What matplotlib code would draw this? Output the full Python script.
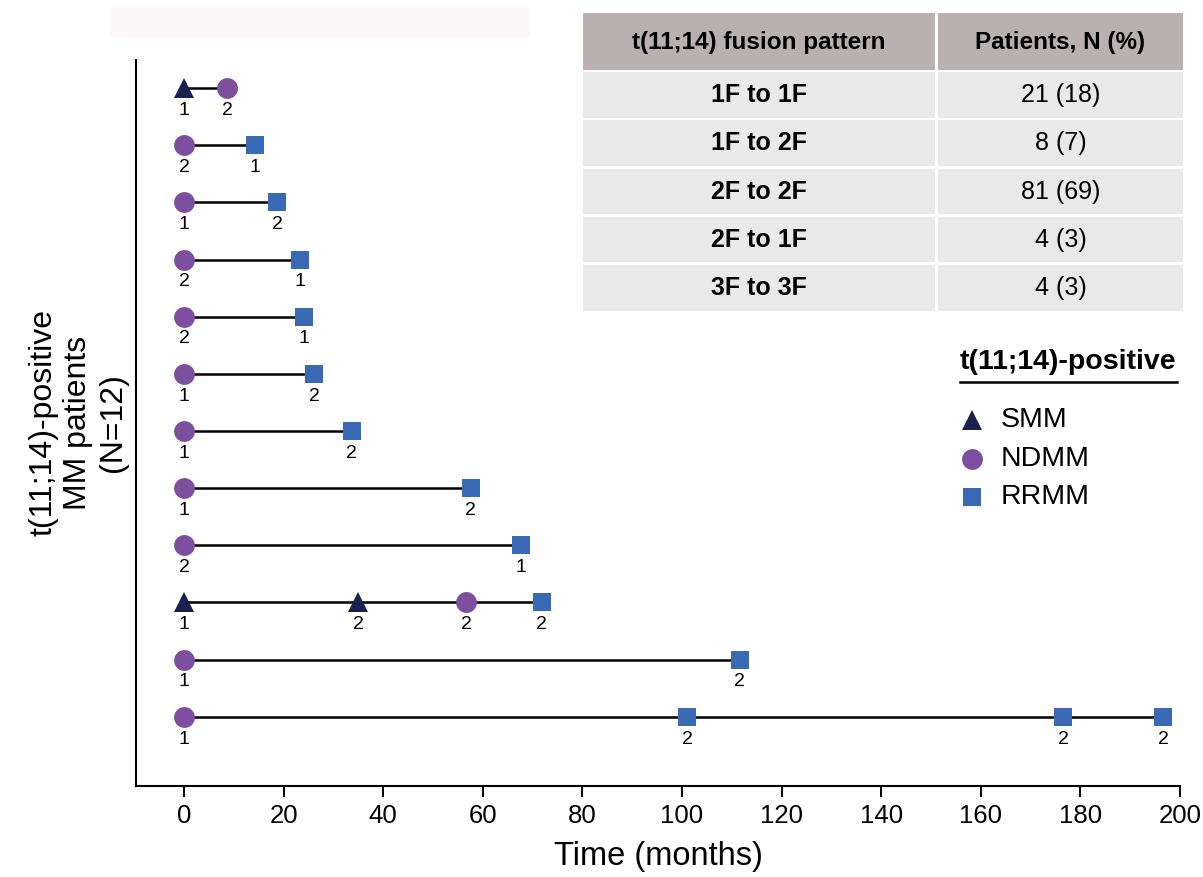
import matplotlib
matplotlib.use('Agg')
from matplotlib import pyplot as plt
from matplotlib.patches import Rectangle

plt.rcParams['font.family'] = ['Liberation Sans', 'DejaVu Sans']

# swimmer data: one row per patient, top to bottom
times = [[0, 8.7], [0, 14.3], [0, 18.7], [0, 23.2], [0, 24.1], [0, 26.1],
         [0, 33.7], [0, 57.6], [0, 67.7], [0, 35.0, 56.7, 71.8],
         [0, 111.6], [0, 101.0, 176.5, 196.6]]
stages = [['SMM', 'NDMM'], ['NDMM', 'RRMM'], ['NDMM', 'RRMM'], ['NDMM', 'RRMM'],
          ['NDMM', 'RRMM'], ['NDMM', 'RRMM'], ['NDMM', 'RRMM'], ['NDMM', 'RRMM'],
          ['NDMM', 'RRMM'], ['SMM', 'SMM', 'NDMM', 'RRMM'],
          ['NDMM', 'RRMM'], ['NDMM', 'RRMM', 'RRMM', 'RRMM']]
fusions = [[1, 2], [2, 1], [1, 2], [2, 1], [2, 1], [1, 2], [1, 2], [1, 2],
           [2, 1], [1, 2, 2, 2], [1, 2], [1, 2, 2, 2]]
xticks = [0, 20, 40, 60, 80, 100, 120, 140, 160, 180, 200]

# table
table_header = ['t(11;14) fusion pattern', 'Patients, N (%)']
patterns = ['1F to 1F', '1F to 2F', '2F to 2F', '2F to 1F', '3F to 3F']
patients = ['21 (18)', '8 (7)', '81 (69)', '4 (3)', '4 (3)']

legend_title = 't(11;14)-positive'
legend_stages = ['SMM', 'NDMM', 'RRMM']

# marker styles per stage
style = {'SMM': dict(marker='^', color='#18214f', ms=15),
         'NDMM': dict(marker='o', color='#7c4f9f', ms=15),
         'RRMM': dict(marker='s', color='#3a69b6', ms=13.5)}

W, H = 1203, 877
fig = plt.figure(figsize=(W/100, H/100), dpi=100)
ax = fig.add_axes([136/W, (H-786)/H, (1180-136)/W, (786-60)/H])

for i, (tt, ss, ff) in enumerate(zip(times, stages, fusions)):
    y = i + 1
    ax.plot([tt[0], tt[-1]], [y, y], '-k', linewidth=1.8, zorder=2)
    for t, s, f in zip(tt, ss, ff):
        st = style[s]
        ax.plot(t, y, linestyle='none', marker=st['marker'], color=st['color'],
                markersize=st['ms'], markeredgewidth=0, zorder=3, clip_on=False)
        ax.annotate(str(f), (t, y), xytext=(0, -16), textcoords='offset points',
                    ha='center', va='center', fontsize=14)

ax.set_xlim(-9.64, 200)
ax.set_ylim(13.21, 0.51)
ax.set_xticks(xticks)
ax.set_yticks([])
ax.spines['top'].set_visible(False)
ax.spines['right'].set_visible(False)
ax.spines['left'].set_linewidth(1.5)
ax.spines['bottom'].set_linewidth(1.5)
ax.tick_params(axis='x', length=8, width=1.4, pad=5, labelsize=18.5)
ax.set_xlabel('Time (months)', fontsize=23.5, labelpad=9)
ax.set_ylabel('t(11;14)-positive\nMM patients\n(N=12)', fontsize=23, labelpad=6)

# overlay in pixel coordinates for the table and the legend
ov = fig.add_axes([0, 0, 1, 1])
ov.set_xlim(0, W)
ov.set_ylim(H, 0)
ov.axis('off')

ov.add_patch(Rectangle((110, 7), 420, 31, color='#fcf8f9', lw=0))

col_x = [(583, 935), (938, 1183)]
ov.add_patch(Rectangle((583, 13), 352, 57, color='#b9b1b1', lw=0))
ov.add_patch(Rectangle((938, 13), 245, 57, color='#b9b1b1', lw=0))
for (x0, x1), txt in zip(col_x, table_header):
    ov.text((x0+x1)/2, 42, txt, ha='center', va='center', fontsize=17.5, fontweight='bold')
for j, (p, n) in enumerate(zip(patterns, patients)):
    y0 = 72 + j*48.3
    for (x0, x1) in col_x:
        ov.add_patch(Rectangle((x0, y0), x1-x0, 45.5, color='#e8e9e8', lw=0))
    ov.text(sum(col_x[0])/2, y0+23, p, ha='center', va='center', fontsize=18, fontweight='bold')
    ov.text(sum(col_x[1])/2, y0+23, n, ha='center', va='center', fontsize=18)

# legend
ov.text(1068, 362, legend_title, ha='center', va='center', fontsize=20.5, fontweight='bold')
ov.plot([960, 1177], [382, 382], '-k', linewidth=1.8)
for k, s in enumerate(legend_stages):
    yy = 420 + k*38.5
    st = style[s]
    ov.plot(972, yy, linestyle='none', marker=st['marker'], color=st['color'],
            markersize=st['ms'], markeredgewidth=0)
    ov.text(1001, yy, s, ha='left', va='center', fontsize=20.5)

fig.savefig('out.png', dpi=100)
